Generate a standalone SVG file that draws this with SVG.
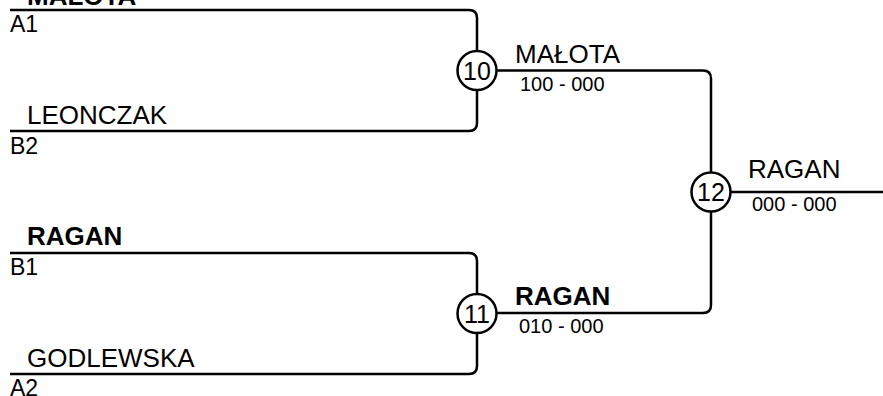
<svg xmlns="http://www.w3.org/2000/svg" width="883" height="396" viewBox="0 0 883 396">
<style>
.ln{fill:none;stroke:#000;stroke-width:2.5}
.c{fill:#fff;stroke:#000;stroke-width:2.5}
.nm{font-family:"Liberation Sans",Arial,sans-serif;font-size:26px;fill:#000}
.b{font-weight:bold}
.sd{font-family:"Liberation Sans",Arial,sans-serif;font-size:23px;fill:#000}
.sc{font-family:"Liberation Sans",Arial,sans-serif;font-size:20px;fill:#000}
.num{font-family:"Liberation Sans",Arial,sans-serif;font-size:25px;fill:#000;text-anchor:middle}
</style>
<rect width="883" height="396" fill="#fff"/>
<g id="connectors">
<path class="ln" d="M10,10 H469 Q477,10 477,18 V123 Q477,131 469,131 H10"/>
<path class="ln" d="M10,253 H469 Q477,253 477,261 V366 Q477,374 469,374 H10"/>
<path class="ln" d="M497,70.5 H703 Q711,70.5 711,78.5 V305 Q711,313 703,313 H497"/>
<path class="ln" d="M731,192 H883"/>
</g>
<g id="entry-a1">
<text class="nm b" x="27" y="5">MAŁOTA</text>
<text class="sd" x="10" y="32">A1</text>
</g>
<g id="entry-b2">
<text class="nm" x="27" y="124">LEONCZAK</text>
<text class="sd" x="10" y="154">B2</text>
</g>
<g id="entry-b1">
<text class="nm b" x="27" y="245">RAGAN</text>
<text class="sd" x="10" y="275">B1</text>
</g>
<g id="entry-a2">
<text class="nm" x="27" y="367">GODLEWSKA</text>
<text class="sd" x="10" y="396">A2</text>
</g>
<g id="match-10">
<circle class="c" cx="477" cy="70.5" r="19.5"/>
<text class="num" x="477" y="79.5">10</text>
<text class="nm" x="515" y="63">MAŁOTA</text>
<text class="sc" x="520" y="91">100 - 000</text>
</g>
<g id="match-11">
<circle class="c" cx="477" cy="313.5" r="19.5"/>
<text class="num" x="477" y="322.5">11</text>
<text class="nm b" x="515" y="305">RAGAN</text>
<text class="sc" x="519" y="333">010 - 000</text>
</g>
<g id="match-12">
<circle class="c" cx="711" cy="192" r="19.5"/>
<text class="num" x="711" y="201">12</text>
<text class="nm" x="748" y="178">RAGAN</text>
<text class="sc" x="752" y="211">000 - 000</text>
</g>
</svg>
